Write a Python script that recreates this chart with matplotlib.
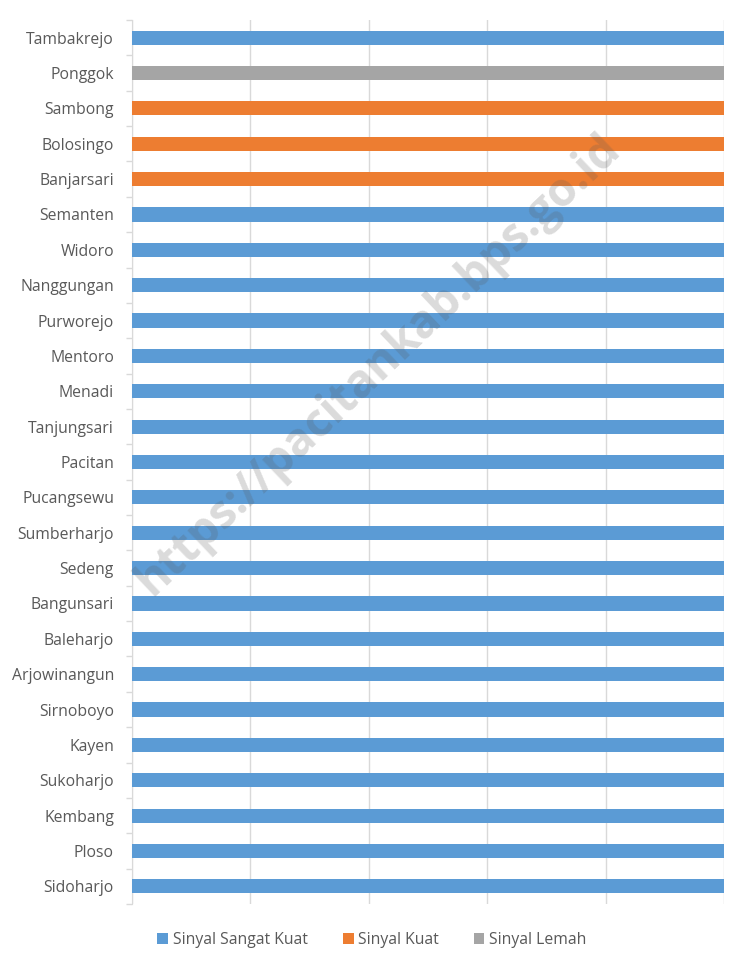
import numpy as np
import matplotlib
matplotlib.use('Agg')
import matplotlib.pyplot as plt
from matplotlib.patches import Patch

villages = ['Tambakrejo', 'Ponggok', 'Sambong', 'Bolosingo', 'Banjarsari',
            'Semanten', 'Widoro', 'Nanggungan', 'Purworejo', 'Mentoro',
            'Menadi', 'Tanjungsari', 'Pacitan', 'Pucangsewu', 'Sumberharjo',
            'Sedeng', 'Bangunsari', 'Baleharjo', 'Arjowinangun', 'Sirnoboyo',
            'Kayen', 'Sukoharjo', 'Kembang', 'Ploso', 'Sidoharjo']
sangat_kuat = [100, 0, 0, 0, 0] + [100] * 20
kuat = [0, 0, 100, 100, 100] + [0] * 20
lemah = [0, 100, 0, 0, 0] + [0] * 20

series = ['Sinyal Sangat Kuat', 'Sinyal Kuat', 'Sinyal Lemah']
colors = ['#5B9BD5', '#ED7D31', '#A5A5A5']

plt.rcParams['font.family'] = ['Open Sans', 'DejaVu Sans']
fig = plt.figure(figsize=(7.33, 9.63), dpi=100)
ax = fig.add_axes([132 / 733, 1 - 904 / 963, (724 - 132) / 733, (904 - 20) / 963])

y = np.arange(len(villages))
left = np.zeros(len(villages))
for vals, c, name in zip([sangat_kuat, kuat, lemah], colors, series):
    ax.barh(y, vals, left=left, height=0.4, color=c, label=name, zorder=3)
    left += np.array(vals)

ax.set_ylim(len(villages) - 0.5, -0.5)
ax.set_xlim(0, 100)
ax.set_xticks(np.arange(0, 101, 20))
ax.set_xticklabels([])
ax.tick_params(axis='x', length=0)
ax.grid(axis='x', color='#d9d9d9', linewidth=1, zorder=0)
ax.set_yticks(y)
ax.set_yticklabels(villages, fontsize=11.3, color='#595959')
ax.tick_params(axis='y', which='major', length=0, pad=13)
ax.set_yticks(np.arange(-0.5, len(villages), 1), minor=True)
ax.tick_params(axis='y', which='minor', length=4, color='#d9d9d9', width=1)
for sp in ('top', 'right', 'bottom'):
    ax.spines[sp].set_visible(False)
ax.spines['left'].set_color('#d9d9d9')

handles = [Patch(facecolor=c, label=s) for c, s in zip(colors, series)]
fig.legend(handles=handles, loc='center', bbox_to_anchor=(372 / 733, 1 - 940 / 963),
           ncol=3, frameon=False, fontsize=11.3, labelcolor='#595959',
           handlelength=0.7, handleheight=0.7, handletextpad=0.3, columnspacing=2.2)

fig.text(378 / 733, 1 - 365 / 963, 'https://pacitankab.bps.go.id', fontsize=33,
         fontweight='bold', color='#595959', alpha=0.22, rotation=43.5,
         ha='center', va='center', zorder=10)

fig.savefig('out.png', dpi=100)
